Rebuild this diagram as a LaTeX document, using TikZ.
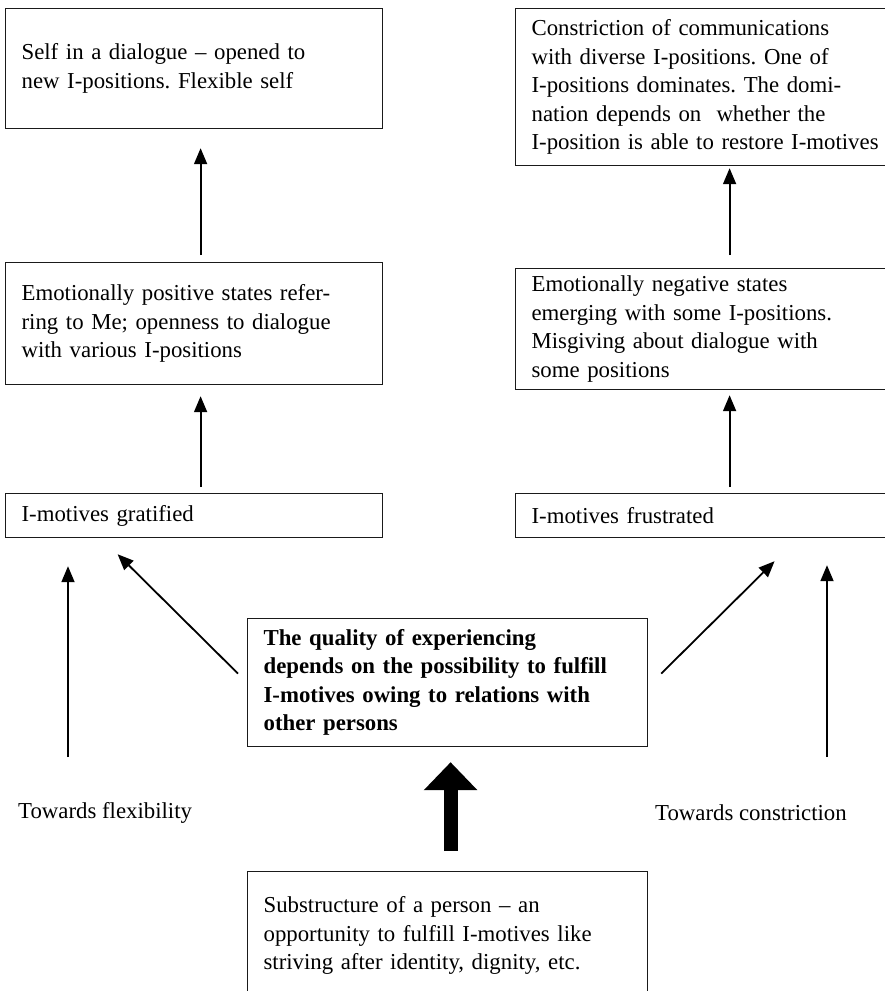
\documentclass[tikz,border=0pt]{standalone}
\usepackage{fontspec}
\setmainfont{Liberation Serif}
\usetikzlibrary{arrows.meta,positioning,calc}
\definecolor{PlanInk}{HTML}{1A1A1A}
\frenchspacing

\begin{document}
\begin{tikzpicture}[x=1pt,y=-1pt,
  stagebox/.style={
    draw=PlanInk,
    line width=1.2pt,
    anchor=north west,
    inner xsep=16pt,
    inner ysep=0pt,
    align=left,
    font=\fontsize{22.8pt}{28.5pt}\selectfont
  },
  flow/.style={-{Triangle[length=16pt,width=13pt]}, line width=1.8pt},
  bigflow/.style={-{Triangle[length=28pt,width=52pt]}, line width=14pt},
  tag/.style={anchor=base west, inner sep=0pt, font=\fontsize{22.8pt}{28.5pt}\selectfont}
]
  \useasboundingbox (0,0) rectangle (885,991);
  \clip (0,0) rectangle (885,991);

  \node[stagebox, minimum width=377pt, text width=345pt, minimum height=120pt] (selfbox) at (5,8)
    {Self in a dialogue -- opened to\\new I-positions. Flexible self};

  \node[stagebox, minimum width=428pt, text width=396pt, minimum height=157pt] (narrowbox) at (515,8)
    {Constriction of communications\\with diverse I-positions. One of\\I-positions dominates. The domi-\\nation depends on\ \ whether the\\I-position is able to restore I-motives};

  \node[stagebox, minimum width=377pt, text width=345pt, minimum height=122pt] (posbox) at (5,262)
    {Emotionally positive states refer-\\ring to Me; openness to dialogue\\with various I-positions};

  \node[stagebox, minimum width=428pt, text width=396pt, minimum height=121pt] (negbox) at (515,268)
    {Emotionally negative states\\emerging with some I-positions.\\Misgiving about dialogue with\\some positions};

  \node[stagebox, minimum width=377pt, text width=345pt, minimum height=44pt] (gratbox) at (5,493)
    {I-motives gratified};

  \node[stagebox, minimum width=428pt, text width=396pt, minimum height=44pt] (frustbox) at (515,493)
    {I-motives frustrated};

  \node[stagebox, minimum width=400pt, text width=368pt, minimum height=128pt] (qualitybox) at (247,618)
    {\bfseries The quality of experiencing\\\bfseries depends on the possibility to fulfill\\\bfseries I-motives owing to relations with\\\bfseries other persons};

  \node[stagebox, minimum width=400pt, text width=368pt, minimum height=128pt] (substbox) at (247,871)
    {Substructure of a person -- an\\opportunity to fulfill I-motives like\\striving after identity, dignity, etc.};

  \node[tag] (flexlabel) at (18,818) {Towards flexibility};
  \node[tag] (conslabel) at (655,820) {Towards constriction};

  \coordinate (flexfoot) at (68,757);
  \coordinate (consfoot) at (827,757);

  \draw[flow, shorten <=7pt, shorten >=19pt] ([xshift=6.5pt]posbox.north) -- ([xshift=6.5pt]selfbox.south);
  \draw[flow, shorten <=6pt, shorten >=11pt] ([xshift=6.5pt]gratbox.north) -- ([xshift=6.5pt]posbox.south);
  \draw[flow, shorten <=13pt, shorten >=2pt] (negbox.north) -- (narrowbox.south);
  \draw[flow, shorten <=6pt, shorten >=5pt] (frustbox.north) -- (negbox.south);

  \draw[flow, shorten >=28pt] (flexfoot) -- (flexfoot |- gratbox.south);
  \draw[flow, shorten >=27pt] (consfoot) -- (consfoot |- frustbox.south);

  \draw[flow] ([xshift=-9pt,yshift=9pt]qualitybox.west) -- ([xshift=-76.5pt,yshift=-16pt]gratbox.south);
  \draw[flow] ([xshift=13pt,yshift=9pt]qualitybox.east) -- ([xshift=45pt,yshift=-23pt]frustbox.south);

  \draw[bigflow, shorten <=20pt, shorten >=15pt] ([xshift=3pt]substbox.north) -- ([xshift=3pt]qualitybox.south);

\end{tikzpicture}
\end{document}
